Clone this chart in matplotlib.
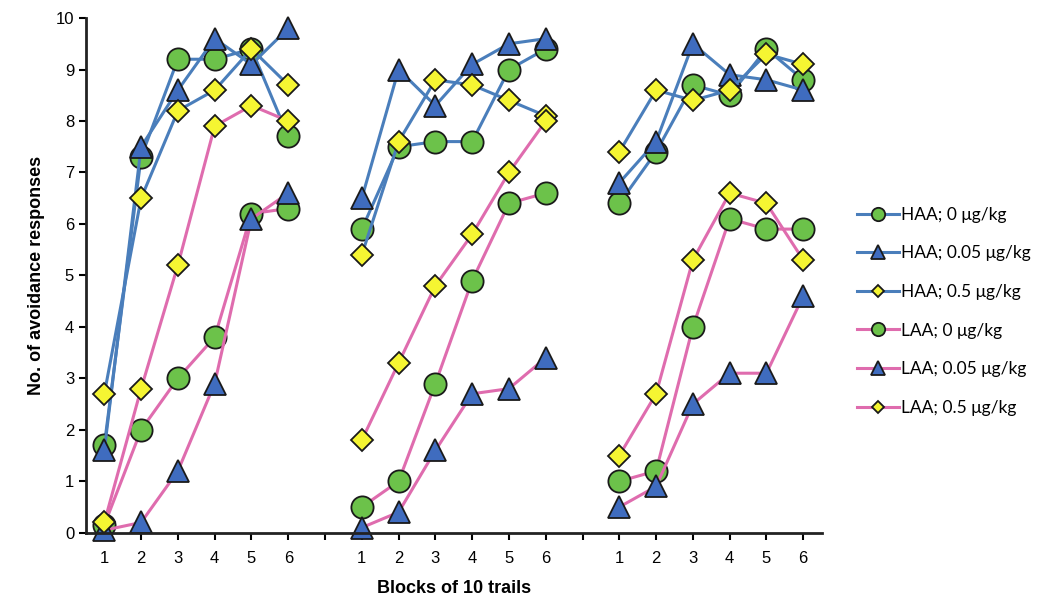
import numpy as np
import matplotlib.pyplot as plt

plt.rcParams['font.family'] = ['Liberation Sans', 'DejaVu Sans']

# three test sessions, blocks 1-6 each, with one empty slot between sessions
blocks = [1, 2, 3, 4, 5, 6]

haa_0 = [1.7, 7.3, 9.2, 9.2, 9.4, 7.7,
         5.9, 7.5, 7.6, 7.6, 9.0, 9.4,
         6.4, 7.4, 8.7, 8.5, 9.4, 8.8]
haa_005 = [1.6, 7.5, 8.6, 9.6, 9.1, 9.8,
           6.5, 9.0, 8.3, 9.1, 9.5, 9.6,
           6.8, 7.6, 9.5, 8.9, 8.8, 8.6]
haa_05 = [2.7, 6.5, 8.2, 8.6, 9.4, 8.7,
          5.4, 7.6, 8.8, 8.7, 8.4, 8.1,
          7.4, 8.6, 8.4, 8.6, 9.3, 9.1]
laa_0 = [0.15, 2.0, 3.0, 3.8, 6.2, 6.3,
         0.5, 1.0, 2.9, 4.9, 6.4, 6.6,
         1.0, 1.2, 4.0, 6.1, 5.9, 5.9]
laa_005 = [0.05, 0.2, 1.2, 2.9, 6.1, 6.6,
           0.1, 0.4, 1.6, 2.7, 2.8, 3.4,
           0.5, 0.9, 2.5, 3.1, 3.1, 4.6]
laa_05 = [0.2, 2.8, 5.2, 7.9, 8.3, 8.0,
          1.8, 3.3, 4.8, 5.8, 7.0, 8.0,
          1.5, 2.7, 5.3, 6.6, 6.4, 5.3]

labels = ['HAA; 0 μg/kg', 'HAA; 0.05 μg/kg', 'HAA; 0.5 μg/kg',
          'LAA; 0 μg/kg', 'LAA; 0.05 μg/kg', 'LAA; 0.5 μg/kg']


def with_gaps(vals):
    # put NaN in the empty slots so lines break between sessions
    out = []
    for i in range(3):
        out += vals[i * 6:(i + 1) * 6]
        if i < 2:
            out.append(np.nan)
    return np.array(out)


x = np.arange(20)
tick_labels = (blocks + ['']) * 2 + blocks

blue = '#4a7ebb'
pink = '#df6cae'
green = '#6cc24a'
tri = '#3f6cbf'
yellow = '#f5f532'
edge = '#1a1a1a'

series = [
    (haa_0, blue, 'o', green, 16),
    (haa_005, blue, '^', tri, 16),
    (haa_05, blue, 'D', yellow, 11),
    (laa_0, pink, 'o', green, 16),
    (laa_005, pink, '^', tri, 16),
    (laa_05, pink, 'D', yellow, 11),
]

fig = plt.figure(figsize=(10.48, 6.02), dpi=100)
ax = fig.add_axes([0.082, 0.115, 0.702, 0.855])

handles = []
for (vals, lc, mk, mc, ms), lab in zip(series, labels):
    h, = ax.plot(x, with_gaps(vals), color=lc, lw=2.2, marker=mk, ms=ms,
                 markerfacecolor=mc, markeredgecolor=edge, markeredgewidth=1.3,
                 label=lab, clip_on=False)
    handles.append(h)

ax.set_xlim(-0.5, 19.5)
ax.set_ylim(0, 10)
ax.set_yticks(range(0, 11))
ax.set_xticks(x)
ax.set_xticklabels(tick_labels, fontsize=12)
ax.tick_params(axis='y', labelsize=12, direction='out', length=5, width=1.5)
ax.tick_params(axis='x', direction='out', length=5, width=1.5, pad=8)
for s in ['top', 'right']:
    ax.spines[s].set_visible(False)
for s in ['left', 'bottom']:
    ax.spines[s].set_linewidth(2)
    ax.spines[s].set_color('#222222')

ax.set_xlabel('Blocks of 10 trails', fontsize=13, fontweight='bold', labelpad=10)
ax.set_ylabel('No. of avoidance responses', fontsize=13, fontweight='bold', labelpad=8)

fig.legend(handles=handles, loc='center left', bbox_to_anchor=(0.803, 0.483),
           frameon=False, prop={'family': 'Lato', 'size': 12.5}, markerscale=0.6,
           handlelength=2.4, labelspacing=1.3, handletextpad=0.1)

fig.savefig('out.png', dpi=100)
